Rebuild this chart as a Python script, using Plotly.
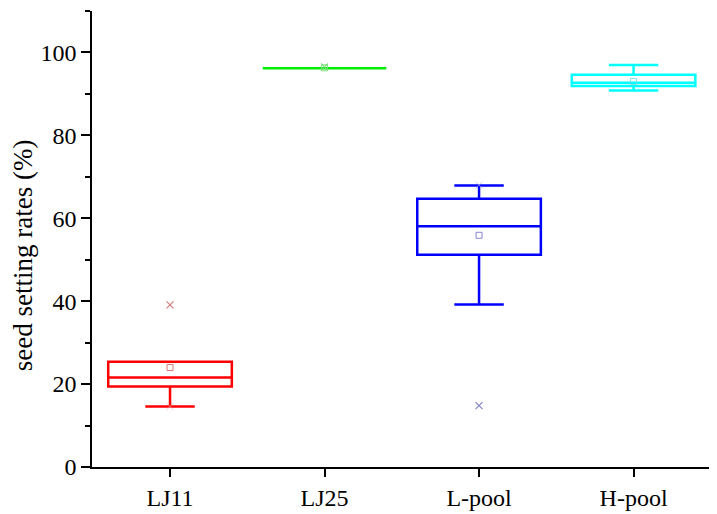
import plotly.graph_objects as go

# seed setting rates (%)
groups = ['LJ11', 'LJ25', 'L-pool', 'H-pool']
q1 = [19.4, 96.2, 51.2, 91.9]
median = [21.6, 96.2, 58.1, 92.7]
q3 = [25.4, 96.2, 64.7, 94.6]
lower = [14.6, 96.2, 39.2, 90.8]
upper = [25.4, 96.2, 67.9, 97.0]
means = [24.0, 96.3, 55.9, 93.0]

# outliers (crosses)
out_group = ['LJ11', 'LJ25', 'L-pool']
out_value = [39.1, 96.5, 14.8]
# min/max crosses, barely visible
mm_group = ['LJ11', 'L-pool']
mm_value = [14.6, 68.0]

colors = ['#ff0000', '#00ee00', '#0000ff', '#00ffff']
faint = ['rgba(210,110,110,0.9)', 'rgba(120,220,120,0.9)',
         'rgba(120,120,200,0.9)', 'rgba(120,220,220,0.9)']
serif = 'Liberation Serif, Times New Roman, serif'

fig = go.Figure()

for i, g in enumerate(groups):
    fig.add_trace(go.Box(
        x=[g], q1=[q1[i]], median=[median[i]], q3=[q3[i]],
        lowerfence=[lower[i]], upperfence=[upper[i]],
        boxpoints=False,
        width=0.8,
        whiskerwidth=0.4,
        fillcolor='rgba(0,0,0,0)',
        line=dict(color=colors[i], width=2.5),
        showlegend=False,
        hoverinfo='skip'
    ))

# mean squares
fig.add_trace(go.Scatter(
    x=groups, y=means, mode='markers',
    marker=dict(symbol='square-open', size=6, color=faint, line=dict(width=1)),
    showlegend=False
))

out_colors = [faint[groups.index(g)] for g in out_group]
fig.add_trace(go.Scatter(
    x=out_group, y=out_value, mode='markers',
    marker=dict(symbol='x-thin-open', size=7, color=out_colors, line=dict(width=1.2, color=out_colors)),
    showlegend=False
))
mm_colors = ['rgba(230,170,170,0.6)', 'rgba(170,170,230,0.6)']
fig.add_trace(go.Scatter(
    x=mm_group, y=mm_value, mode='markers',
    marker=dict(symbol='x-thin-open', size=7, color=mm_colors, line=dict(width=1, color=mm_colors)),
    showlegend=False
))

# page body has an 8px margin; figure is offset by 8px and overflows a little
fig.update_layout(
    width=709, height=514,
    margin=dict(l=84, r=0, t=3, b=55),
    paper_bgcolor='white', plot_bgcolor='white',
    boxmode='overlay',
    font=dict(family=serif, size=24, color='black'),
    xaxis=dict(
        type='category', range=[-0.505, 3.54], automargin=False,
        showline=True, linecolor='black', linewidth=1.5,
        ticks='outside', ticklen=8, tickwidth=1.5, tickcolor='black',
        tickfont=dict(family=serif, size=24, color='black'),
        showgrid=False, zeroline=False
    ),
    yaxis=dict(
        range=[0, 110], tickvals=[0, 20, 40, 60, 80, 100], automargin=False,
        showline=True, linecolor='black', linewidth=1.5,
        ticks='outside', ticklen=9, tickwidth=1.5, tickcolor='black',
        minor=dict(ticks='outside', ticklen=5, tickwidth=1.5, tickcolor='black', dtick=10),
        tickfont=dict(family=serif, size=24, color='black'),
        showgrid=False, zeroline=False
    ),
    annotations=[dict(
        text='seed setting rates (%)', textangle=-90, showarrow=False,
        xref='paper', yref='paper', x=-0.11, y=0.465,
        xanchor='center', yanchor='middle',
        font=dict(family=serif, size=27, color='black')
    )]
)

fig.write_html("out.html")
